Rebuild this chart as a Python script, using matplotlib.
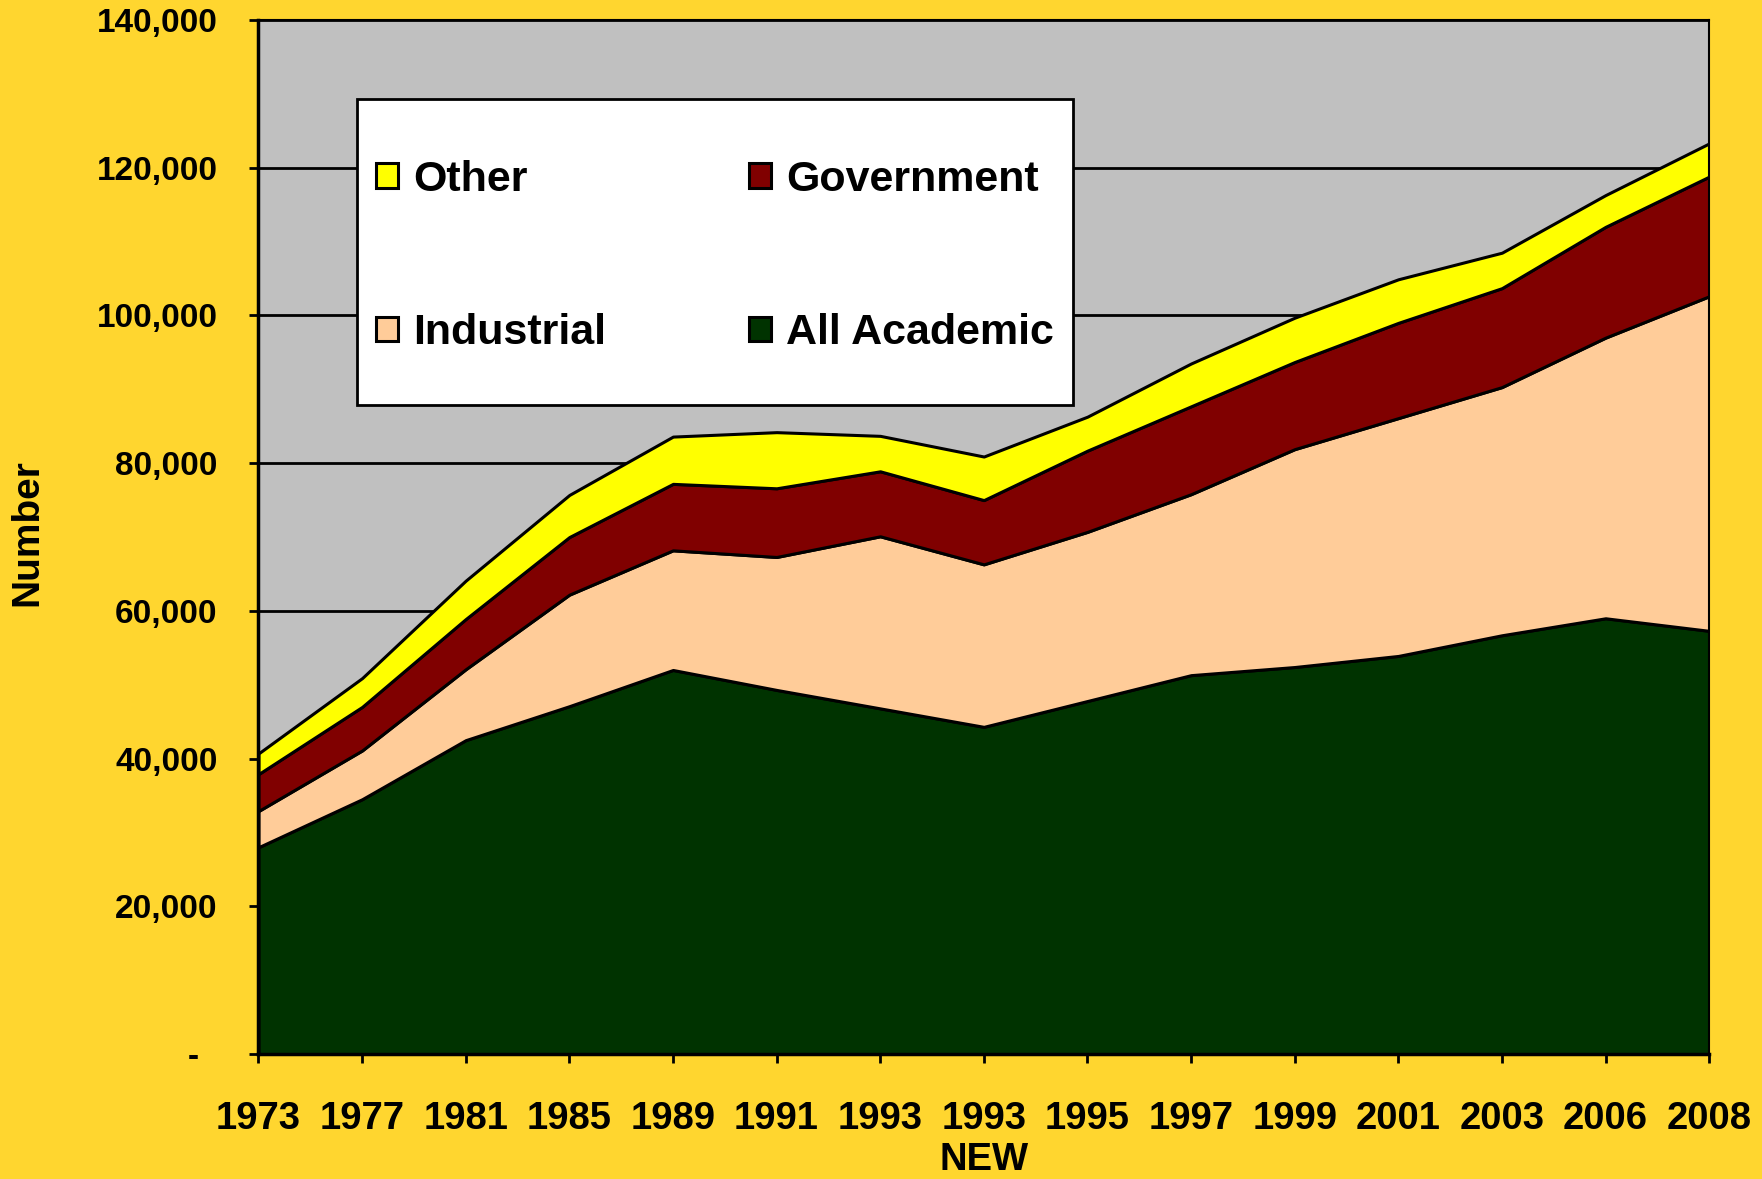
import numpy as np
import matplotlib
matplotlib.use('Agg')
import matplotlib.pyplot as plt
from matplotlib.patches import Rectangle

# Category labels (two 1993 points: old and NEW survey)
years = ['1973', '1977', '1981', '1985', '1989', '1991', '1993', '1993\nNEW',
         '1995', '1997', '1999', '2001', '2003', '2006', '2008']

# Values (numbers per employer type)
academic = [28000, 34500, 42500, 47100, 52000, 49300, 46800, 44300,
            47800, 51300, 52400, 53900, 56700, 59000, 57300]
industrial = [4900, 6600, 9600, 15100, 16200, 18000, 23300, 22000,
              22900, 24500, 29500, 32200, 33600, 38000, 45300]
government = [5000, 5900, 6800, 7800, 9000, 9300, 8800, 8700,
              11000, 11900, 11800, 12900, 13400, 15000, 16200]
other = [2800, 3900, 5200, 5700, 6400, 7600, 4800, 5900,
         4600, 5800, 6000, 5900, 4800, 4300, 4500]

labels = ['All Academic', 'Industrial', 'Government', 'Other']
colors = ['#003300', '#FFCC99', '#800000', '#FFFF00']

yticks = [0, 20000, 40000, 60000, 80000, 100000, 120000, 140000]
ytick_labels = ['-  ', '20,000', '40,000', '60,000', '80,000',
                '100,000', '120,000', '140,000']

plt.rcParams['font.family'] = ['Liberation Sans', 'DejaVu Sans']
plt.rcParams['font.weight'] = 'bold'

fig = plt.figure(figsize=(17.62, 11.79), dpi=100, facecolor='#FFD62F')
ax = fig.add_axes([0.1467, 0.106, 0.8233, 0.877])
ax.set_facecolor('#C0C0C0')

x = np.arange(len(years))
polys = ax.stackplot(x, academic, industrial, government, other,
                     colors=colors, labels=labels,
                     edgecolor='black', linewidth=2.2)

ax.set_xlim(0, len(years) - 1)
ax.set_ylim(0, 140000)
ax.set_yticks(yticks)
ax.set_yticklabels(ytick_labels)
ax.set_xticks(x)
ax.set_xticklabels(years)
ax.get_xticklabels()[7].set_linespacing(1.2)

ax.set_axisbelow(True)
ax.grid(axis='y', color='black', linewidth=2)
ax.tick_params(axis='y', labelsize=24, length=6.5, width=2, pad=23)
ax.tick_params(axis='x', labelsize=27.5, length=6.5, width=2, pad=27)
for lab in ax.get_xticklabels() + ax.get_yticklabels():
    lab.set_fontweight('bold')

for side in ['left', 'bottom']:
    ax.spines[side].set_linewidth(2.5)
for side in ['top', 'right']:
    ax.spines[side].set_linewidth(1.5)

fig.text(0.0153, 0.548, 'Number', rotation=90, fontsize=28,
         fontweight='bold', ha='center', va='center')

# Legend box
box = (0.0679, 0.6277, 0.4936, 0.2959)
ax.add_patch(Rectangle(box[:2], box[2], box[3], transform=ax.transAxes,
                       facecolor='white', edgecolor='black', linewidth=2,
                       zorder=4))
handles = [polys[3], polys[1], polys[2], polys[0]]
names = ['Other', 'Industrial', 'Government', 'All Academic']
ax.legend(handles, names, loc='center',
          bbox_to_anchor=(box[0], box[1] - 0.0045, box[2], box[3]),
          mode='expand', ncol=2, frameon=False, borderpad=0.45,
          labelspacing=2.63, handlelength=0.5, handleheight=0.5,
          handletextpad=0.35, borderaxespad=0,
          prop={'weight': 'bold', 'size': 31})

fig.savefig('out.png', dpi=100, facecolor=fig.get_facecolor())
